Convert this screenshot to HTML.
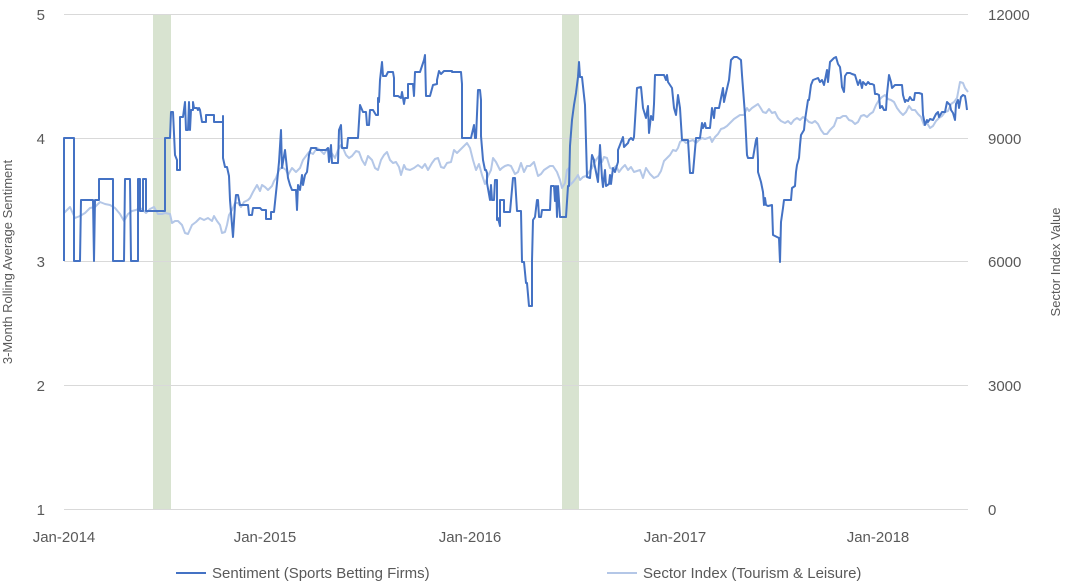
<!DOCTYPE html>
<html><head><meta charset="utf-8"><style>
html,body{margin:0;padding:0;background:#fff;}
svg{display:block;font-family:"Liberation Sans",sans-serif;}
</style></head><body>
<svg width="1067" height="585" viewBox="0 0 1067 585">
<rect x="153" y="14" width="18" height="495" fill="#d8e3d0"/>
<rect x="562" y="14" width="17" height="495" fill="#d8e3d0"/>
<g stroke="#d9d9d9" stroke-width="1">
<line x1="64" y1="14.5" x2="968" y2="14.5"/>
<line x1="64" y1="138.5" x2="968" y2="138.5"/>
<line x1="64" y1="261.5" x2="968" y2="261.5"/>
<line x1="64" y1="385.5" x2="968" y2="385.5"/>
<line x1="64" y1="509.5" x2="968" y2="509.5"/>
</g>
<g font-size="15" fill="#595959">
<text x="45" y="20" text-anchor="end">5</text>
<text x="45" y="144" text-anchor="end">4</text>
<text x="45" y="267" text-anchor="end">3</text>
<text x="45" y="391" text-anchor="end">2</text>
<text x="45" y="515" text-anchor="end">1</text>
<text x="988" y="20">12000</text>
<text x="988" y="144">9000</text>
<text x="988" y="267">6000</text>
<text x="988" y="391">3000</text>
<text x="988" y="515">0</text>
<text x="64" y="542" text-anchor="middle">Jan-2014</text>
<text x="265" y="542" text-anchor="middle">Jan-2015</text>
<text x="470" y="542" text-anchor="middle">Jan-2016</text>
<text x="675" y="542" text-anchor="middle">Jan-2017</text>
<text x="878" y="542" text-anchor="middle">Jan-2018</text>
</g>
<g font-size="13" fill="#595959">
<text transform="translate(12,262) rotate(-90)" text-anchor="middle">3-Month Rolling Average Sentiment</text>
<text transform="translate(1060,262) rotate(-90)" text-anchor="middle">Sector Index Value</text>
</g>
<polyline fill="none" stroke="#b4c7e7" stroke-width="2" stroke-linejoin="round" points="64,213 70,207 75,218 80,216 85,213 90,208 95,207 100,202 105,204 110,205 115,208 120,214 124,221 128,214 132,211 136,210 140,208 143,210 146,213 150,209 154,207 158,214 162,214 165,213 170,214 172,223 175,221 178,221 182,225 185,233 188,234 192,225 196,222 200,218 204,220 208,218 212,221 214,216 217,221 220,225 222,233 225,232 227,225 229,215 232,210 235,203 238,203 241,207 244,202 248,200 250,198 253,192 257,185 260,191 262,185 265,187 268,190 272,186 274,181 276,178 279,170 282,167 286,170 288,175 292,168 296,172 300,168 303,160 306,156 309,152 313,154 317,148 320,150 324,154 328,148 331,152 335,158 338,150 341,145 343,148 346,155 349,158 352,156 356,151 359,152 362,160 365,165 368,156 372,160 375,168 378,170 381,160 384,155 387,152 390,160 393,163 396,162 399,167 401,175 404,165 406,169 410,170 414,168 418,165 422,168 425,164 428,170 432,163 435,159 438,158 441,167 444,168 447,163 451,162 454,150 457,153 460,150 464,146 467,143 470,148 473,160 476,170 479,164 482,175 485,184 488,176 491,170 493,158 496,162 500,170 502,168 505,166 508,165 511,166 515,174 518,172 521,163 524,172 527,166 530,166 534,162 538,176 541,174 544,170 547,168 550,166 553,166 557,172 560,180 562,188 565,183 567,170 569,168 570,185 573,182 576,178 578,175 580,180 583,177 586,176 589,172 592,168 596,160 599,156 602,162 604,157 607,158 610,168 613,169 616,166 619,172 622,168 625,165 628,170 631,167 634,172 637,171 640,170 643,178 646,168 650,174 654,178 658,176 661,171 664,161 667,158 670,155 673,150 676,151 678,148 680,142 683,140 686,143 690,141 693,140 696,143 699,140 702,138 705,139 708,138 710,137 712,142 715,137 718,134 721,129 724,128 727,126 730,123 734,119 737,117 740,115 744,115 747,108 749,111 752,108 755,106 758,104 760,107 763,112 766,113 769,109 772,113 775,112 778,118 781,121 785,123 788,121 791,124 794,120 797,118 800,120 803,117 806,119 809,122 812,123 815,121 818,124 821,130 824,134 827,134 830,130 834,126 837,118 840,118 843,116 846,116 849,120 852,121 855,124 858,122 861,116 864,115 867,117 870,114 873,112 876,105 879,100 882,97 885,95 888,99 891,100 894,102 897,108 900,112 903,115 906,112 909,106 912,110 915,110 918,114 921,117 924,125 927,123 930,128 933,126 936,121 939,118 942,116 945,112 948,111 951,104 954,102 957,98 960,82 963,83 965,88 968,92"/>
<polyline fill="none" stroke="#4472c4" stroke-width="2" stroke-linejoin="round" points="64,261 64,138 74,138 74,261 80,261 81,200 93,200 94,261 95,200 99,200 99,179 113,179 113,261 124,261 125,179 130,179 131,261 138,261 138,179 140,179 140,211 143,211 143,179 146,179 146,211 165,211 165,138 170,138 171,112 173,112 175,155 177,160 177,170 180,170 180,117 183,117 185,102 186,130 188,130 189,102 190,130 191,110 193,110 193,102 194,108 197,108 198,110 199,108 200,110 202,122 206,122 206,115 214,115 214,122 223,122 223,116 223,158 225,167 227,167 229,176 230,200 232,225 233,237 235,205 236,195 238,195 240,205 248,205 249,215 252,215 253,208 260,208 262,210 266,210 266,219 271,219 271,212 274,212 277,183 279,162 281,130 282,168 285,150 288,178 290,185 292,190 296,190 297,210 298,185 300,190 302,175 303,185 305,175 307,172 309,155 311,148 316,148 317,150 326,150 328,148 329,162 331,145 332,163 338,163 339,130 341,125 342,148 347,148 348,138 358,138 360,105 363,112 366,112 367,125 369,125 370,110 373,110 376,115 378,115 378,98 379,102 380,80 382,62 383,76 386,76 388,72 393,72 394,78 394,96 398,96 401,98 402,92 404,104 405,98 408,98 408,84 413,84 414,96 415,72 420,72 424,60 425,55 426,96 430,96 433,85 437,84 437,80 439,71 441,74 444,71 452,71 452,72 461,72 462,84 462,138 471,138 474,125 475,138 476,138 478,90 480,90 481,100 481,136 483,160 485,170 486,170 487,173 487,183 490,200 491,185 492,200 494,200 495,180 497,180 497,220 498,218 500,226 500,200 504,200 504,212 510,212 513,178 515,178 517,211 521,211 522,262 524,262 526,283 527,283 529,306 532,306 532,261 533,220 535,217 537,200 538,200 539,217 541,217 542,210 550,210 551,186 554,186 555,201 556,186 557,217 558,186 559,201 560,217 566,217 568,186 569,186 570,146 572,120 574,105 576,93 578,77 579,62 580,77 582,77 585,105 587,177 590,178 592,155 594,160 594,162 598,182 600,145 602,178 603,187 605,170 606,186 609,184 610,175 611,184 613,168 615,172 618,162 618,150 623,137 624,147 628,143 629,140 631,138 633,140 634,137 637,88 641,87 643,108 646,118 648,106 649,133 651,116 653,120 654,104 655,75 664,75 666,80 667,75 668,82 672,88 674,108 676,115 678,95 680,108 682,140 688,140 690,173 693,173 696,138 700,138 702,123 703,128 705,123 706,128 710,128 712,108 714,118 715,108 719,108 723,88 724,102 726,93 729,80 731,60 734,57 737,57 741,60 742,75 745,115 747,155 748,158 753,158 756,140 757,138 758,160 758,172 761,182 763,192 764,205 765,198 766,205 768,206 772,205 773,235 779,238 780,262 781,222 783,208 784,200 791,200 792,188 795,186 796,172 797,165 799,158 800,145 801,135 804,130 805,120 808,100 809,100 811,85 813,80 818,78 820,82 822,80 824,85 826,75 827,70 828,82 830,62 834,58 836,57 838,64 840,67 841,75 842,87 844,92 845,76 847,73 850,73 852,74 855,75 858,85 860,80 862,88 863,82 866,85 868,82 870,84 872,84 874,85 875,94 877,94 879,95 880,108 882,106 884,110 886,110 887,94 889,75 891,82 892,88 895,85 902,85 903,95 905,102 906,100 908,101 910,97 912,100 914,100 915,93 919,93 922,94 923,115 925,125 927,120 928,122 930,119 933,120 936,114 938,112 939,117 942,112 945,112 947,102 950,105 951,110 953,113 955,120 956,104 958,100 959,108 961,97 963,95 965,96 966,102 967,110"/>
<line x1="176" y1="573" x2="206" y2="573" stroke="#4472c4" stroke-width="2"/>
<text x="212" y="578" font-size="15" fill="#595959">Sentiment (Sports Betting Firms)</text>
<line x1="607" y1="573" x2="637" y2="573" stroke="#b4c7e7" stroke-width="2"/>
<text x="643" y="578" font-size="15" fill="#595959">Sector Index (Tourism &amp; Leisure)</text>
</svg>
</body></html>
